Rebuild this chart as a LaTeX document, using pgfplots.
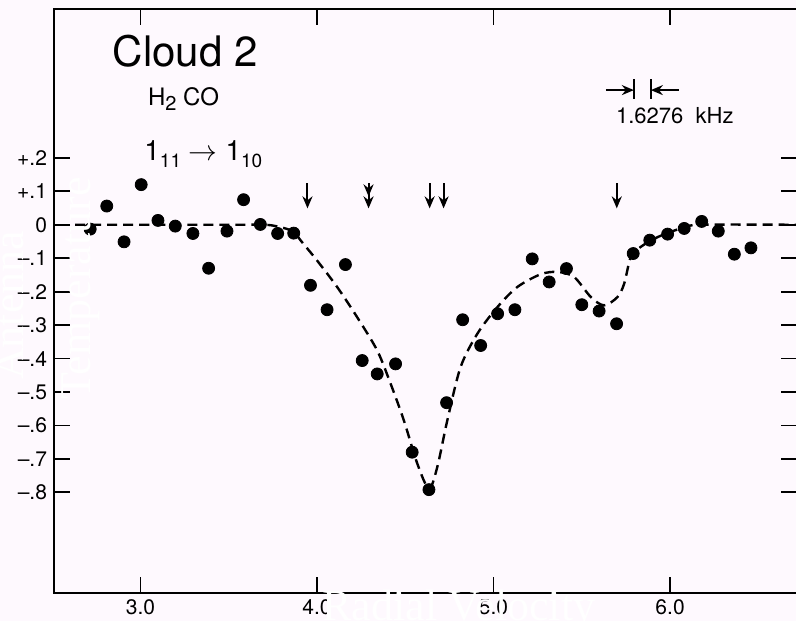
\documentclass[border=0pt]{standalone}
\usepackage{pgfplots}
\pgfplotsset{compat=1.18}
\usepackage{fontspec}
\setmainfont{TeX Gyre Heros}
\newfontfamily\wserif{Liberation Serif}
\usetikzlibrary{arrows.meta}
\definecolor{bgpink}{RGB}{254,249,254}
\pagecolor{bgpink}
\pgfplotstableread{
x y
2.715 -0.013
2.809 0.056
2.907 -0.051
3.004 0.120
3.099 0.013
3.197 -0.004
3.297 -0.026
3.386 -0.130
3.490 -0.019
3.584 0.075
3.679 0.001
3.777 -0.026
3.868 -0.025
3.963 -0.181
4.057 -0.254
4.161 -0.119
4.256 -0.406
4.341 -0.446
4.445 -0.416
4.539 -0.680
4.634 -0.792
4.734 -0.532
4.825 -0.284
4.927 -0.361
5.023 -0.266
5.121 -0.254
5.219 -0.102
5.315 -0.171
5.413 -0.131
5.500 -0.239
5.598 -0.258
5.697 -0.296
5.791 -0.086
5.885 -0.046
5.986 -0.028
6.080 -0.011
6.179 0.010
6.273 -0.019
6.364 -0.088
6.458 -0.069
}\obsdata
\pgfplotstableread{
x y
2.63 0
3.0 0
3.5 0
3.70 0
3.776 -0.005
3.867 -0.020
3.906 -0.046
3.999 -0.106
4.114 -0.186
4.227 -0.276
4.341 -0.376
4.416 -0.474
4.492 -0.585
4.568 -0.714
4.634 -0.789
4.681 -0.725
4.738 -0.585
4.813 -0.426
4.908 -0.326
5.022 -0.246
5.135 -0.186
5.267 -0.148
5.362 -0.141
5.456 -0.156
5.551 -0.216
5.626 -0.241
5.702 -0.216
5.740 -0.176
5.778 -0.096
5.834 -0.066
5.929 -0.037
6.061 -0.011
6.175 0
6.719 0
}\fitcurve
\begin{document}
\begin{tikzpicture}
\begin{axis}[
  scale only axis,
  width=371pt, height=291.5pt,
  xmin=2.5105, xmax=6.719,
  ymin=-1.1003, ymax=0.6452,
  xtick={3,4,5,6},
  xticklabels={3.0,4.0,5.0,6.0},
  ytick={-0.8,-0.7,-0.6,-0.5,-0.4,-0.3,-0.2,-0.1,0,0.1,0.2},
  yticklabels={–.8,–.7,–.6,–.5,–.4,–.3,–.2,–.1,0,+.1,+.2},
  tick align=inside,
  major tick length=8pt,
  axis line style={line width=1pt},
  tick style={line width=0.9pt, black},
  ticklabel style={font=\fontsize{10.5}{12}\selectfont},
  /pgf/number format/assume math mode=true,
  clip=false,
]
\addplot[black, line width=1.2pt, dash pattern=on 5pt off 3pt, smooth, tension=0.5] table {\fitcurve};
\addplot[only marks, mark=*, mark size=3pt, black] table {\obsdata};

\draw[line width=1pt, -{Stealth[length=6pt,width=5pt]}] (3.946,0.124) -- (3.946,0.049);
\draw[line width=1pt, -{Stealth[length=6pt,width=5pt] Stealth[length=6pt,width=5pt]}] (4.292,0.124) -- (4.292,0.049);
\draw[line width=1pt, -{Stealth[length=6pt,width=5pt]}] (4.638,0.124) -- (4.638,0.049);
\draw[line width=1pt, -{Stealth[length=6pt,width=5pt]}] (4.717,0.124) -- (4.717,0.049);
\draw[line width=1pt, -{Stealth[length=6pt,width=5pt]}] (5.698,0.124) -- (5.698,0.049);

\draw[line width=0.9pt, -{Stealth[length=6pt,width=5pt]}] (5.636,0.4027) -- (5.795,0.4027);
\draw[line width=0.9pt] (5.795,0.4356) -- (5.795,0.3757);
\draw[line width=0.9pt] (5.891,0.4356) -- (5.891,0.3757);
\draw[line width=0.9pt, -{Stealth[length=6pt,width=5pt]}] (6.050,0.4027) -- (5.891,0.4027);

\node[anchor=base, font=\fontsize{21}{25}\selectfont] at (3.2535,0.4746) {Cloud 2};
\node[anchor=base, font=\fontsize{12}{14}\selectfont] at (3.244,0.3578) {H\raisebox{-0.45ex}{\fontsize{10}{11}\selectfont 2} CO};
\node[anchor=base, font=\fontsize{14}{16}\selectfont] at (3.356,0.193) {1\raisebox{-0.5ex}{\fontsize{9.5}{10}\selectfont 11}\;$\rightarrow$\;1\raisebox{-0.5ex}{\fontsize{9.5}{10}\selectfont 10}};
\node[anchor=base, font=\fontsize{11}{13}\selectfont] at (6.027,0.304) {1.6276\ \ kHz};

\coordinate (SW) at (rel axis cs:0,0);
\coordinate (NE) at (rel axis cs:1,1);
\coordinate (LabA) at (2.340,-0.241);
\coordinate (LabT) at (2.715,-0.190);
\coordinate (LabR) at (4.804,-1.184);
\end{axis}
\node[rotate=90, anchor=base, white, font=\wserif\fontsize{22}{26}\selectfont] at (LabA) {Antenna};
\node[rotate=90, anchor=base, white, font=\wserif\fontsize{22}{26}\selectfont] at (LabT) {Temperature};
\node[anchor=base, white, font=\wserif\fontsize{22}{26}\selectfont] at (LabR) {Radial Velocity};
\pgfresetboundingbox
\path[use as bounding box] ([shift={(-27pt,-14pt)}]SW) rectangle ([shift={(-0.5pt,4.5pt)}]NE);
\end{tikzpicture}
\end{document}
